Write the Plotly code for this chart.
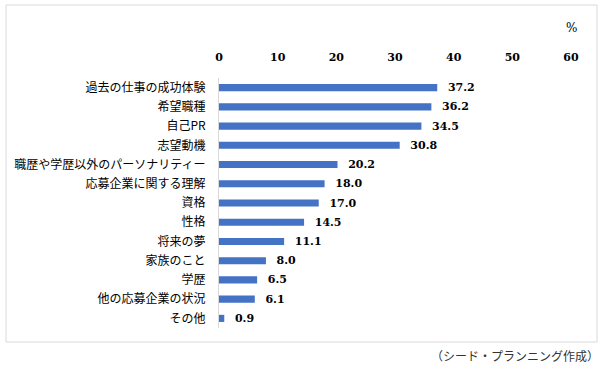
import plotly.graph_objects as go

categories = ["過去の仕事の成功体験", "希望職種", "自己PR", "志望動機",
              "職歴や学歴以外のパーソナリティー", "応募企業に関する理解", "資格",
              "性格", "将来の夢", "家族のこと", "学歴", "他の応募企業の状況", "その他"]
values = [37.2, 36.2, 34.5, 30.8, 20.2, 18.0, 17.0, 14.5, 11.1, 8.0, 6.5, 6.1, 0.9]
tick_vals = [0, 10, 20, 30, 40, 50, 60]
unit_label = "%"
source_text = "（シード・プランニング作成）"

W, H = 602, 372
L, R, T, B = 219, 31, 78, 44
pw, ph = W - L - R, H - T - B

def px_x(x):
    return (x - L) / pw

def px_y(y):
    return 1 - (y - T) / ph

fig = go.Figure(go.Bar(
    y=categories, x=values, orientation="h",
    marker=dict(color="#4472C4", line=dict(width=0)),
    width=0.37,
    text=[f"{v:.1f}" for v in values], textposition="outside",
    texttemplate="  %{text}",
    constraintext="none",
    textfont=dict(family="DejaVu Serif", size=11, color="#000000", weight="bold"),
    cliponaxis=False,
))

fig.update_layout(
    width=W, height=H,
    margin=dict(l=L, r=R, t=T, b=B, autoexpand=False),
    paper_bgcolor="white", plot_bgcolor="white",
    showlegend=False,
    font=dict(family="Noto Sans CJK JP", color="#000000"),
    xaxis=dict(
        range=[0, 60], tickvals=tick_vals, side="top", automargin=False,
        showgrid=False, zeroline=False, showline=False,
        ticks="outside", ticklen=12, tickcolor="rgba(0,0,0,0)",
        tickfont=dict(family="DejaVu Serif", size=11, color="#000000", weight="bold"),
    ),
    yaxis=dict(
        categoryorder="array", categoryarray=categories, autorange="reversed",
        automargin=False,
        showgrid=False, zeroline=False, showline=True, linecolor="#d9d9d9", linewidth=1,
        ticks="outside", ticklen=10, tickcolor="rgba(0,0,0,0)",
        tickfont=dict(family="Noto Sans CJK JP", size=12, color="#000000"),
    ),
)

fig.add_shape(type="rect", xref="paper", yref="paper",
              x0=px_x(6), x1=px_x(597), y0=px_y(342), y1=px_y(5),
              line=dict(color="#d9d9d9", width=1), fillcolor="rgba(0,0,0,0)", layer="below")

fig.add_annotation(text=unit_label, xref="paper", yref="paper",
                   x=px_x(571), y=px_y(28), xanchor="center", yanchor="middle",
                   showarrow=False,
                   font=dict(family="DejaVu Serif", size=12, color="#000000"))
fig.add_annotation(text=source_text, xref="paper", yref="paper",
                   x=px_x(601), y=px_y(355), xanchor="right", yanchor="middle",
                   showarrow=False,
                   font=dict(family="Noto Sans CJK JP", size=12, color="#333333"))

fig.write_html("out.html", config={"displayModeBar": False},
               post_script="document.body.style.margin='0';document.body.style.overflow='hidden';")
